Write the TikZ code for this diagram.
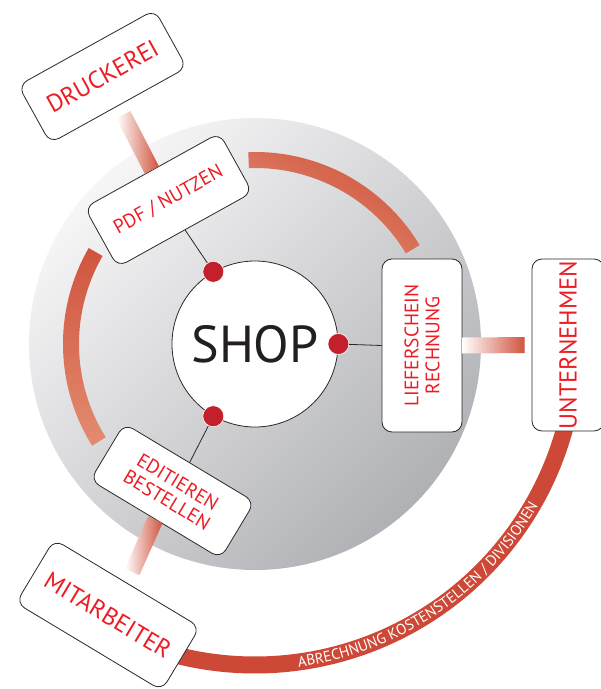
\documentclass[tikz,border=0pt]{standalone}
\usepackage{fontspec}
\setmainfont{PT Sans}
\usetikzlibrary{calc,positioning,decorations.text}

\definecolor{txtred}{RGB}{237,28,36}
\definecolor{dotred}{RGB}{196,32,43}
\definecolor{arcdark}{RGB}{208,84,62}
\definecolor{arclight}{RGB}{226,140,112}
\definecolor{bandred}{RGB}{205,72,54}
\definecolor{greylight}{RGB}{246,246,247}
\definecolor{greydark}{RGB}{176,177,181}
\definecolor{boxline}{RGB}{40,40,40}
\definecolor{shopblack}{RGB}{35,31,32}

% shaded bar from one box to the next, white end first
\newcommand{\gradlink}[3]{%
  \path let \p1=(#1), \p2=(#2),
    \n1={atan2(\y2-\y1,\x2-\x1)}, \n2={veclen(\x2-\x1,\y2-\y1)-#3} in
    (\p1) node[linkbar, rotate=\n1, minimum width=\n2, anchor=west] {};}

\begin{document}
\begin{tikzpicture}[x=1pt, y=1pt,
  box/.style={draw=boxline, fill=white, line width=0.8pt, rounded corners=10pt,
    text=txtred, align=center, inner sep=0pt},
  inner box/.style={box, font=\fontsize{19.5}{21}\selectfont},
  outer box/.style={box, font=\fontsize{24.5}{28}\selectfont},
  dot/.style={circle, fill=dotred, draw=white, line width=0.6pt, minimum size=21pt, inner sep=0pt},
  link/.style={draw=boxline, line width=0.8pt},
  linkbar/.style={rectangle, inner sep=0pt, outer sep=0pt, minimum height=16pt,
    left color=white, right color=arcdark},
  band/.style={draw=bandred, line width=17pt}]
  \useasboundingbox (-255,-345) rectangle (346,344);
  \clip (-255,-345) rectangle (346,344);

  % disc and inner arcs
  \shade[top color=greylight, bottom color=greydark, shading angle=45] (0,0) circle[radius=226];
  \shade[left color=arcdark, right color=arclight, shading angle=-29]
    (92:192) arc[start angle=92, end angle=31, radius=192]
    -- (31:176) arc[start angle=31, end angle=92, radius=176] -- cycle;
  \shade[top color=arcdark, bottom color=arclight]
    (150:192) arc[start angle=150, end angle=212, radius=192]
    -- (212:176) arc[start angle=212, end angle=150, radius=176] -- cycle;

  % outer band
  \draw[band] (-8:321) arc[start angle=-8, end angle=-112, radius=321];
  \path[decorate, decoration={text along path, text align=center,
      text={|\fontsize{15}{18}\selectfont\color{white}|ABRECHNUNG KOSTENSTELLEN / DIVISIONEN}}]
    (-91:326) arc[start angle=-91, end angle=-21, radius=326];

  \node[circle, draw=boxline, fill=white, line width=0.8pt, minimum size=166pt,
    text=shopblack, font=\fontsize{52}{60}\selectfont] (shop) at (0,0) {SHOP};

  % boxes
  \node[inner box, rotate=29, minimum width=154pt, minimum height=68pt] (pdf) at (-86.5,144) {PDF / NUTZEN};
  \node[outer box, rotate=29, minimum width=156pt, minimum height=66pt] (druck) at (-152.5,267.5) {DRUCKEREI};
  \node[inner box, rotate=90, minimum width=173pt, minimum height=80pt] (lief) at (167,-1.5) {LIEFERSCHEIN\\RECHNUNG};
  \node[outer box, rotate=90, minimum width=172pt, minimum height=72pt] (unter) at (313,-1) {UNTERNEHMEN};
  \node[inner box, rotate=-31, minimum width=152pt, minimum height=66pt] (edit) at (-82.5,-147) {EDITIEREN\\BESTELLEN};
  \node[outer box, rotate=-31, minimum width=170pt, minimum height=74pt] (mit) at (-147,-271) {MITARBEITER};

  \gradlink{pdf.north}{druck.south}{10}
  \gradlink{lief.south}{unter.north}{7}
  \gradlink{edit.south}{mit.north}{12}

  % dots on the shop
  \node[dot] (dpdf) at (shop.120) {};
  \node[dot] (dlief) at (shop.0) {};
  \node[dot] (dedit) at (shop.-120) {};
  \draw[link] (dpdf) -- (pdf.south);
  \draw[link] (dlief) -- (lief.north);
  \draw[link] (dedit) -- (edit.north);
\end{tikzpicture}
\end{document}
